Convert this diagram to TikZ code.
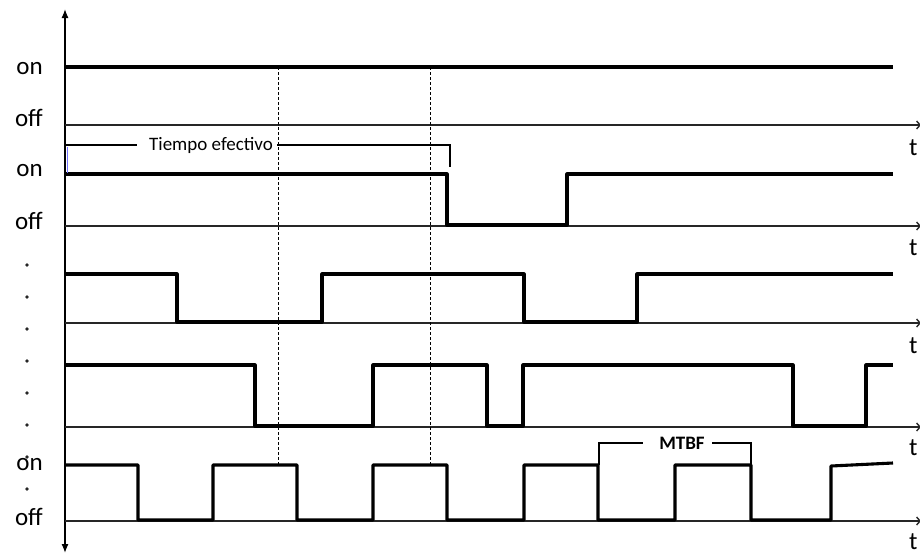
\documentclass[tikz,border=0pt]{standalone}
\usepackage{fontspec}
\setmainfont{Carlito}
\usetikzlibrary{arrows.meta}
\begin{document}
\begin{tikzpicture}[x=1pt,y=-1pt,
  wave/.style={line width=3.1pt,line join=round,black},
  axisline/.style={line width=1.4pt,black!85,-{Straight Barb[length=3.5pt,width=8pt]}},
  vaxis/.style={line width=1.3pt,black,{Latex[length=9pt,width=7pt]}-{Latex[length=9pt,width=7pt]}},
  guide/.style={line width=1pt,black,dash pattern=on 3pt off 2pt},
  bracket/.style={line width=1.3pt,black},
  lvl/.style={anchor=base east,inner sep=0pt,font=\fontsize{25}{29}\selectfont},
  tlab/.style={anchor=base west,inner sep=0pt,font=\fontsize{25}{29}\selectfont},
  vdot/.style={circle,fill=black!85,inner sep=0pt,minimum size=3.6pt},
  note/.style={inner sep=0pt,font=\fontsize{19}{23}\selectfont}]
\useasboundingbox (0,0) rectangle (920,554);
\fill[white] (0,0) rectangle (920,554);

% vertical axis
\draw[vaxis] (65,553) -- (65,9);

% off/time axes
\foreach \y in {125,226,323,427,521}{
  \draw[axisline] (65,\y) -- (921,\y);
}

% time labels
\node[tlab] (t1) at (909,155) {t};
\node[tlab] (t2) at (909,255) {t};
\node[tlab] (t3) at (909,353) {t};
\node[tlab] (t4) at (909,455) {t};
\node[tlab] (t5) at (909,549) {t};

% dashed guides
\draw[guide] (278,67) -- (278,466);
\draw[guide] (430,67) -- (430,466);

% waveforms
\draw[wave] (65,67) -- (893,67);
\draw[wave] (65,174) -- (447,174) -- (447,225) -- (567,225) -- (567,174) -- (893,174);
\draw[wave] (65,274) -- (177,274) -- (177,322) -- (322,322) -- (322,274) -- (524,274) -- (524,322) -- (637,322) -- (637,274) -- (893,274);
\draw[wave] (65,365) -- (255,365) -- (255,426) -- (373,426) -- (373,365) -- (487,365) -- (487,426) -- (523,426) -- (523,365) -- (793,365) -- (793,426) -- (866,426) -- (866,365) -- (893,365);
\draw[wave] (65,465) -- (138,465) -- (138,520) -- (213,520) -- (213,465) -- (297,465) -- (297,520) -- (373,520) -- (373,465) -- (447,465) -- (447,520) -- (524,520) -- (524,465) -- (598,465) -- (598,520) -- (675,520) -- (675,465) -- (751,465) -- (751,520) -- (831,520) -- (831,466) -- (893,463);

% level labels
\node[lvl] (on1) at (43,74) {on};
\node[lvl] (off1) at (43,126) {off};
\node[lvl] (on2) at (43,176) {on};
\node[lvl] (off2) at (43,229) {off};
\node[lvl] (on5) at (43,470) {on};
\node[lvl] (off5) at (43,525) {off};

% vertical dots
\foreach \k in {0,...,7}{
  \node[vdot] (d\k) at (27,265+32*\k) {};
}

% Tiempo efectivo bracket
\node[note] (te) at (211,145) {Tiempo efectivo};
\draw[line width=1pt,blue!55] (67,147) -- (67,173);
\draw[bracket] (66,145) -- (137,145);
\draw[bracket] (277,145) -- (450,145) -- (450,167);

% MTBF bracket
\node[note,font=\fontsize{19}{23}\selectfont\bfseries] (mtbf) at (682,443) {MTBF};
\draw[bracket] (599,465) -- (599,443) -- (643,443);
\draw[bracket] (712,443) -- (751,443) -- (751,465);
\end{tikzpicture}
\end{document}
